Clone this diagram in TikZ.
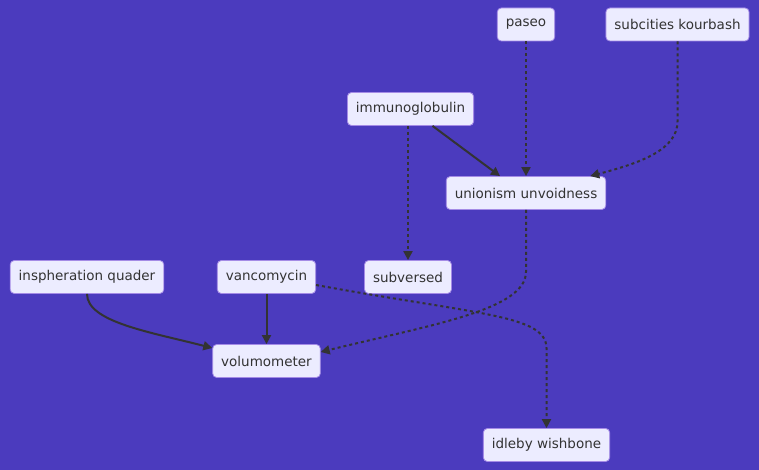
\documentclass[tikz,border=0pt]{standalone}
\usepackage{fontspec}
\setmainfont{DejaVu Sans}
\usepackage{tikz}
\usetikzlibrary{arrows.meta,positioning,calc}
\definecolor{bgpurple}{HTML}{4B3BBE}
\definecolor{boxfill}{HTML}{ECECFF}
\definecolor{boxline}{HTML}{A48BE6}
\definecolor{edgegray}{HTML}{333333}

\begin{document}
\begin{tikzpicture}[x=1pt,y=-1pt,
  term/.style={draw=boxline,fill=boxfill,rounded corners=4pt,line width=0.8pt,
               minimum height=33pt,inner xsep=8.5pt,text=edgegray,
               font=\fontsize{13.5}{16}\selectfont},
  arrow/.style={-{Triangle[length=9pt,width=9pt]},line width=2pt,color=edgegray},
  dotarrow/.style={arrow,dash pattern=on 3pt off 3pt}
]
\fill[bgpurple] (0,0) rectangle (759,470);
\useasboundingbox (0,0) rectangle (759,470);
\node[term] (paseo) at (526,24.5) {paseo};
\node[term] (subcit) at (677.5,24.5) {subcities kourbash};
\node[term] (immuno) at (410.5,109) {immunoglobulin};
\node[term] (union) at (526,193) {unionism unvoidness};
\node[term] (insph) at (87,277) {inspheration quader};
\node[term] (vanco) at (266.5,277) {vancomycin};
\node[term] (subv) at (408,277) {subversed};
\node[term] (volum) at (266.5,361) {volumometer};
\node[term] (idleby) at (546.5,445) {idleby wishbone};
\draw[dotarrow] (paseo) -- (union);
\draw[dotarrow] (subcit.south) -- ++(0,80) .. controls (677.5,150) and (640,163) .. ([xshift=-16pt]union.north east);
\draw[arrow] ([xshift=22pt]immuno.south) -- ([xshift=-26pt]union.north);
\draw[dotarrow] ([xshift=-2.5pt]immuno.south) -- (subv.north);
\draw[dotarrow] (union.south) -- ++(0,62) .. controls (526,310) and (430,325) .. ([yshift=9pt]volum.east);
\draw[arrow] (insph.south) .. controls (87,322) and (150,332) .. ([yshift=13pt]volum.west);
\draw[arrow] (vanco) -- (volum);
\draw[dotarrow] ([yshift=-8pt]vanco.east) .. controls (480,315) and (546,315) .. ([yshift=80pt]idleby.north) -- (idleby.north);
\end{tikzpicture}
\end{document}
